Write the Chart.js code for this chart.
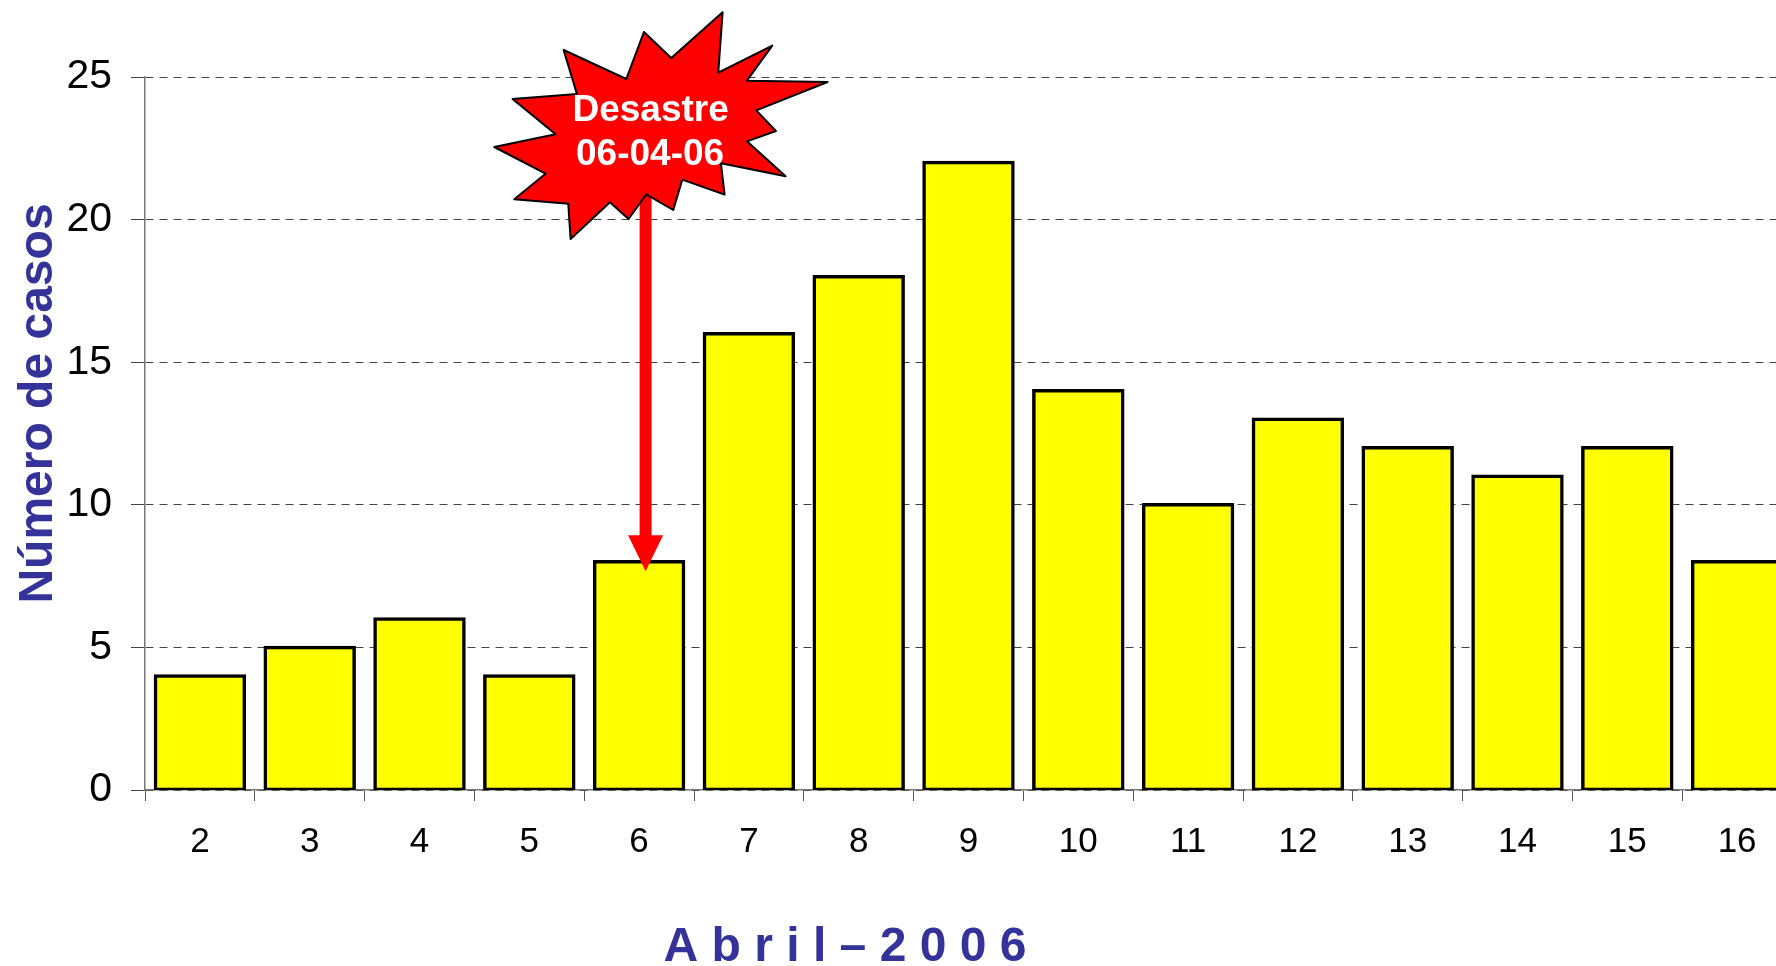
<!DOCTYPE html>
<html><head><meta charset="utf-8">
<style>html,body{margin:0;padding:0;background:#fff;overflow:hidden;width:1776px;height:966px}
#wrap{width:1776px;height:966px;overflow:hidden;position:relative}canvas{display:block}</style>
<script src="https://cdn.jsdelivr.net/npm/chart.js@4/dist/chart.umd.js"></script>
</head><body><div id="wrap"><canvas id="c" width="1800" height="966" style="width:1800px;height:966px"></canvas></div>
<script>
const days = ['2','3','4','5','6','7','8','9','10','11','12','13','14','15','16'];
const casos = [4,5,6,4,8,16,18,22,14,10,13,12,11,12,8];
const yTitle = 'Número de casos';
const xTitle = 'A b r i l – 2 0 0 6';
const calloutLines = ['Desastre','06-04-06'];
const calloutDay = '6';
const FONT = '"Liberation Sans", Arial, sans-serif';
const TITLE_COLOR = '#333399';
// Starburst outline, as offsets in px from the arrow's axis (x) and the top of the chart (y)
const burst = [[727,37],[714,218],[876,137],[800,242],[1042,246],[828,331],[887,393],[800,424],[916,529],[722,490],[733,584],[606,539],[579,630],[498,583],[445,657],[389,607],[271,717],[264,611],[102,598],[196,521],[42,441],[226,403],[97,297],[290,282],[250,150],[438,237],[491,96],[573,174]]
  .map(p => [(p[0]-496)/3, p[1]/3]);

const callout = {
  id:'callout',
  afterDatasetsDraw(chart){
    const {ctx, scales:{x,y}} = chart;
    const i = days.indexOf(calloutDay);
    const cx = x.getPixelForValue(i) + 6.5;
    const barTop = y.getPixelForValue(casos[i]);
    const tip = barTop + 9.5;
    ctx.save();
    ctx.fillStyle = '#ff0000';
    ctx.fillRect(cx-6, 190, 12, tip-36-190+1);
    ctx.beginPath(); ctx.moveTo(cx-17.5, tip-36); ctx.lineTo(cx+17.5, tip-36); ctx.lineTo(cx, tip); ctx.closePath(); ctx.fill();
    ctx.beginPath();
    burst.forEach((p,k)=>{ k ? ctx.lineTo(cx+p[0], p[1]) : ctx.moveTo(cx+p[0], p[1]); });
    ctx.closePath();
    ctx.fillStyle='#ff0000'; ctx.fill();
    ctx.strokeStyle='#000'; ctx.lineWidth=2; ctx.lineJoin='round'; ctx.stroke();
    ctx.fillStyle='#fff'; ctx.font='bold 37px '+FONT; ctx.textAlign='center'; ctx.textBaseline='alphabetic';
    ctx.fillText(calloutLines[0], cx+5, 120.5);
    ctx.fillText(calloutLines[1], cx+4.5, 165);
    ctx.restore();
  },
  afterDraw(chart){
    const {ctx} = chart;
    ctx.save();
    ctx.fillStyle = TITLE_COLOR; ctx.textBaseline='alphabetic'; ctx.textAlign='center';
    ctx.font = 'bold 48px '+FONT;
    ctx.translate(52, 403.5); ctx.rotate(-Math.PI/2);
    ctx.fillText(yTitle, 0, 0);
    ctx.restore();
    ctx.save();
    ctx.fillStyle = TITLE_COLOR; ctx.textBaseline='alphabetic'; ctx.textAlign='center';
    ctx.font = 'bold 48px '+FONT;
    ctx.fillText(xTitle, 845, 961);
    ctx.restore();
  }
};

new Chart(document.getElementById('c'), {
  type:'bar',
  data:{labels:days, datasets:[{data:casos, backgroundColor:'#ffff00', borderColor:'#000', borderWidth:3.5, borderSkipped:false, inflateAmount:1.75, barPercentage:0.81, categoryPercentage:1}]},
  options:{
    responsive:false, animation:false, devicePixelRatio:1,
    layout:{padding:{top:77,left:0,right:8,bottom:0}},
    plugins:{legend:{display:false},tooltip:{enabled:false}},
    scales:{
      x:{
        afterFit(s){ s.height = 176; },
        grid:{drawOnChartArea:false, offset:true, tickLength:11, tickColor:'#555', tickWidth:1},
        border:{color:'#777', width:1.5},
        ticks:{color:'#000', font:{family:FONT,size:35}, padding:20, maxRotation:0, autoSkip:false}
      },
      y:{
        min:0,max:25,
        afterFit(s){ s.width = 145; },
        grid:{color:'#444', lineWidth:1, tickLength:14, tickColor:'#444', tickBorderDash:[], tickWidth:1},
        border:{color:'#777', width:1.5, dash:[8,6]},
        ticks:{color:'#000', stepSize:5, font:{family:FONT,size:41}, padding:19}
      }
    }
  },
  plugins:[callout]
});
</script></body></html>
